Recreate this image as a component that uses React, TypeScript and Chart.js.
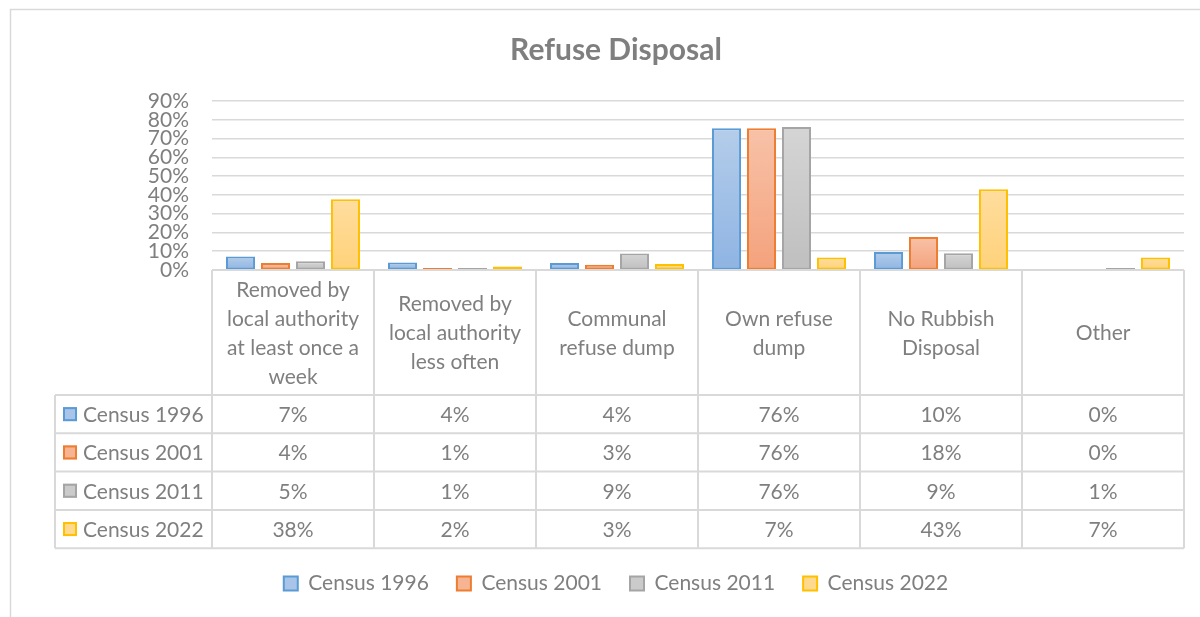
import React, { useEffect, useRef } from 'react';
import { Chart, registerables } from 'chart.js';

Chart.register(...registerables);

// ---- data ----
const categories: string[][] = [
  ['Removed by', 'local authority', 'at least once a', 'week'],
  ['Removed by', 'local authority', 'less often'],
  ['Communal', 'refuse dump'],
  ['Own refuse', 'dump'],
  ['No Rubbish', 'Disposal'],
  ['Other'],
];
const seriesNames = ['Census 1996', 'Census 2001', 'Census 2011', 'Census 2022'];
const census1996 = [7.2, 4.0, 3.7, 75.6, 9.6, 0];
const census2001 = [3.7, 1.0, 2.8, 75.6, 17.6, 0];
const census2011 = [4.6, 1.0, 8.8, 76.3, 8.9, 1.0];
const census2022 = [37.7, 1.8, 3.2, 6.7, 43.1, 6.7];
const seriesValues = [census1996, census2001, census2011, census2022];
const yMin = 0;
const yMax = 90;
const yStep = 10;
const titleText = 'Refuse Disposal';

// ---- style ----
const FONT = 'Lato';
const TEXT = '#7f7f7f';
const LINE = '#d9d9d9';
const borderColors = ['#5b9bd5', '#ed7d31', '#a5a5a5', '#ffc000'];
const topFills = ['#b4cdea', '#f8c2a8', '#d5d5d5', '#ffdd9e'];
const bottomFills = ['#8fb4e3', '#f4a27c', '#bfbfbf', '#ffd27a'];
const swatchFills = ['#a8c4e8', '#f6b493', '#cbcbcb', '#ffd98d'];

const HEADER_H = 125;
const ROW_H = 38.3;
const LEG_LEFT = 55;
const HEADER_LINE_H = 29;
const TABLE_FONT = 21;

const borderPlugin = {
  id: 'outerBorder',
  beforeDraw(chart: any) {
    const ctx = chart.ctx;
    ctx.save();
    ctx.strokeStyle = LINE;
    ctx.lineWidth = 1.5;
    ctx.beginPath();
    ctx.moveTo(10.5, chart.height + 5);
    ctx.lineTo(10.5, 9.5);
    ctx.lineTo(chart.width + 5, 9.5);
    ctx.stroke();
    ctx.restore();
  },
};

const tablePlugin = {
  id: 'dataTable',
  afterDraw(chart: any) {
    const { ctx, chartArea } = chart;
    const xs = chart.scales.x;
    const labels = chart.data.labels as string[][];
    const n = labels.length;
    const left = chartArea.left;
    const right = chartArea.right;
    const colW = (right - left) / n;
    const top = chartArea.bottom;
    const headerBottom = top + HEADER_H;
    const datasets = chart.data.datasets;
    const rows = datasets.length;
    const bottom = headerBottom + rows * ROW_H;

    ctx.save();
    ctx.strokeStyle = LINE;
    ctx.lineWidth = 2;
    ctx.beginPath();
    ctx.moveTo(left, top);
    ctx.lineTo(right, top);
    for (let r = 0; r <= rows; r++) {
      const y = headerBottom + r * ROW_H;
      ctx.moveTo(LEG_LEFT, y);
      ctx.lineTo(right, y);
    }
    for (let c = 0; c <= n; c++) {
      const x = left + c * colW;
      ctx.moveTo(x, top);
      ctx.lineTo(x, bottom);
    }
    ctx.moveTo(LEG_LEFT, headerBottom);
    ctx.lineTo(LEG_LEFT, bottom);
    ctx.stroke();

    ctx.fillStyle = TEXT;
    ctx.font = `${TABLE_FONT}px ${FONT}`;
    ctx.textAlign = 'center';
    ctx.textBaseline = 'middle';
    const hcy = (top + headerBottom) / 2 + 1;
    labels.forEach((lab, c) => {
      const lines = Array.isArray(lab) ? lab : [lab];
      const cx = xs.getPixelForValue(c);
      lines.forEach((ln, i) => {
        const y = hcy + (i - (lines.length - 1) / 2) * HEADER_LINE_H;
        ctx.fillText(ln, cx, y);
      });
    });

    datasets.forEach((ds: any, r: number) => {
      const cy = headerBottom + (r + 0.5) * ROW_H;
      ctx.textAlign = 'center';
      ctx.fillStyle = TEXT;
      (ds.data as number[]).forEach((v, c) => {
        ctx.fillText(Math.round(v) + '%', xs.getPixelForValue(c), cy + 1);
      });
      // legend key
      ctx.fillStyle = swatchFills[r];
      ctx.fillRect(63, cy - 7, 14, 14);
      ctx.strokeStyle = borderColors[r];
      ctx.lineWidth = 2;
      ctx.strokeRect(64, cy - 6, 12, 12);
      ctx.fillStyle = TEXT;
      ctx.textAlign = 'left';
      ctx.fillText(ds.label, 83, cy + 1);
    });
    ctx.restore();
  },
};

export default function App() {
  const canvasRef = useRef<HTMLCanvasElement | null>(null);

  useEffect(() => {
    if (!canvasRef.current) return;
    const datasets = seriesNames.map((name, i) => ({
      label: name,
      data: seriesValues[i],
      borderColor: borderColors[i],
      borderWidth: 2,
      borderSkipped: false as const,
      categoryPercentage: 0.864,
      barPercentage: 0.83,
      backgroundColor: (ctx: any) => {
        const chart = ctx.chart;
        const y = chart.scales && chart.scales.y;
        if (ctx.type !== 'data' || !y || !chart.chartArea) return swatchFills[i];
        const v = ctx.raw as number;
        const t = y.getPixelForValue(v);
        const b = y.getPixelForValue(0);
        if (!isFinite(t) || !isFinite(b) || b - t < 1) return swatchFills[i];
        const g = chart.ctx.createLinearGradient(0, t, 0, b);
        g.addColorStop(0, topFills[i]);
        g.addColorStop(1, bottomFills[i]);
        return g;
      },
    }));

    const chart = new Chart(canvasRef.current, {
      type: 'bar',
      data: { labels: categories as any, datasets },
      plugins: [borderPlugin, tablePlugin],
      options: {
        responsive: false,
        animation: false,
        layout: { padding: { left: 48, right: 16, top: 0, bottom: 13 } },
        plugins: {
          title: {
            display: true,
            text: titleText,
            color: TEXT,
            font: { family: FONT, size: 30, weight: 'bold' },
            padding: { top: 32.5, bottom: 32.7 },
          },
          legend: {
            display: true,
            position: 'bottom',
            labels: {
              color: TEXT,
              font: { family: FONT, size: 21 },
              boxWidth: 14,
              boxHeight: 14,
              padding: 28,
              generateLabels: (ch: any) =>
                ch.data.datasets.map((ds: any, i: number) => ({
                  text: ds.label,
                  fillStyle: swatchFills[i],
                  strokeStyle: borderColors[i],
                  lineWidth: 2,
                  hidden: false,
                  datasetIndex: i,
                  fontColor: TEXT,
                })),
            },
          },
          tooltip: { enabled: false },
        },
        scales: {
          x: {
            type: 'category',
            ticks: { display: false },
            grid: { display: false },
            border: { display: false },
            afterFit: (scale: any) => {
              scale.height = 275;
            },
          },
          y: {
            min: yMin,
            max: yMax,
            ticks: {
              stepSize: yStep,
              autoSkip: false,
              padding: 23,
              color: TEXT,
              font: { family: FONT, size: 21, lineHeight: 1 },
              callback: (v: any) => v + '%',
            },
            grid: { color: LINE, lineWidth: 1.5, drawTicks: false },
            border: { display: false },
            afterFit: (scale: any) => {
              scale.width = 164;
            },
          },
        },
      } as any,
    });
    return () => chart.destroy();
  }, []);

  return (
    <div style={{ position: 'absolute', left: 0, top: 0, width: 1200, height: 617, background: '#fff' }}>
      <canvas ref={canvasRef} width={1200} height={617} style={{ display: 'block' }} />
    </div>
  );
}
